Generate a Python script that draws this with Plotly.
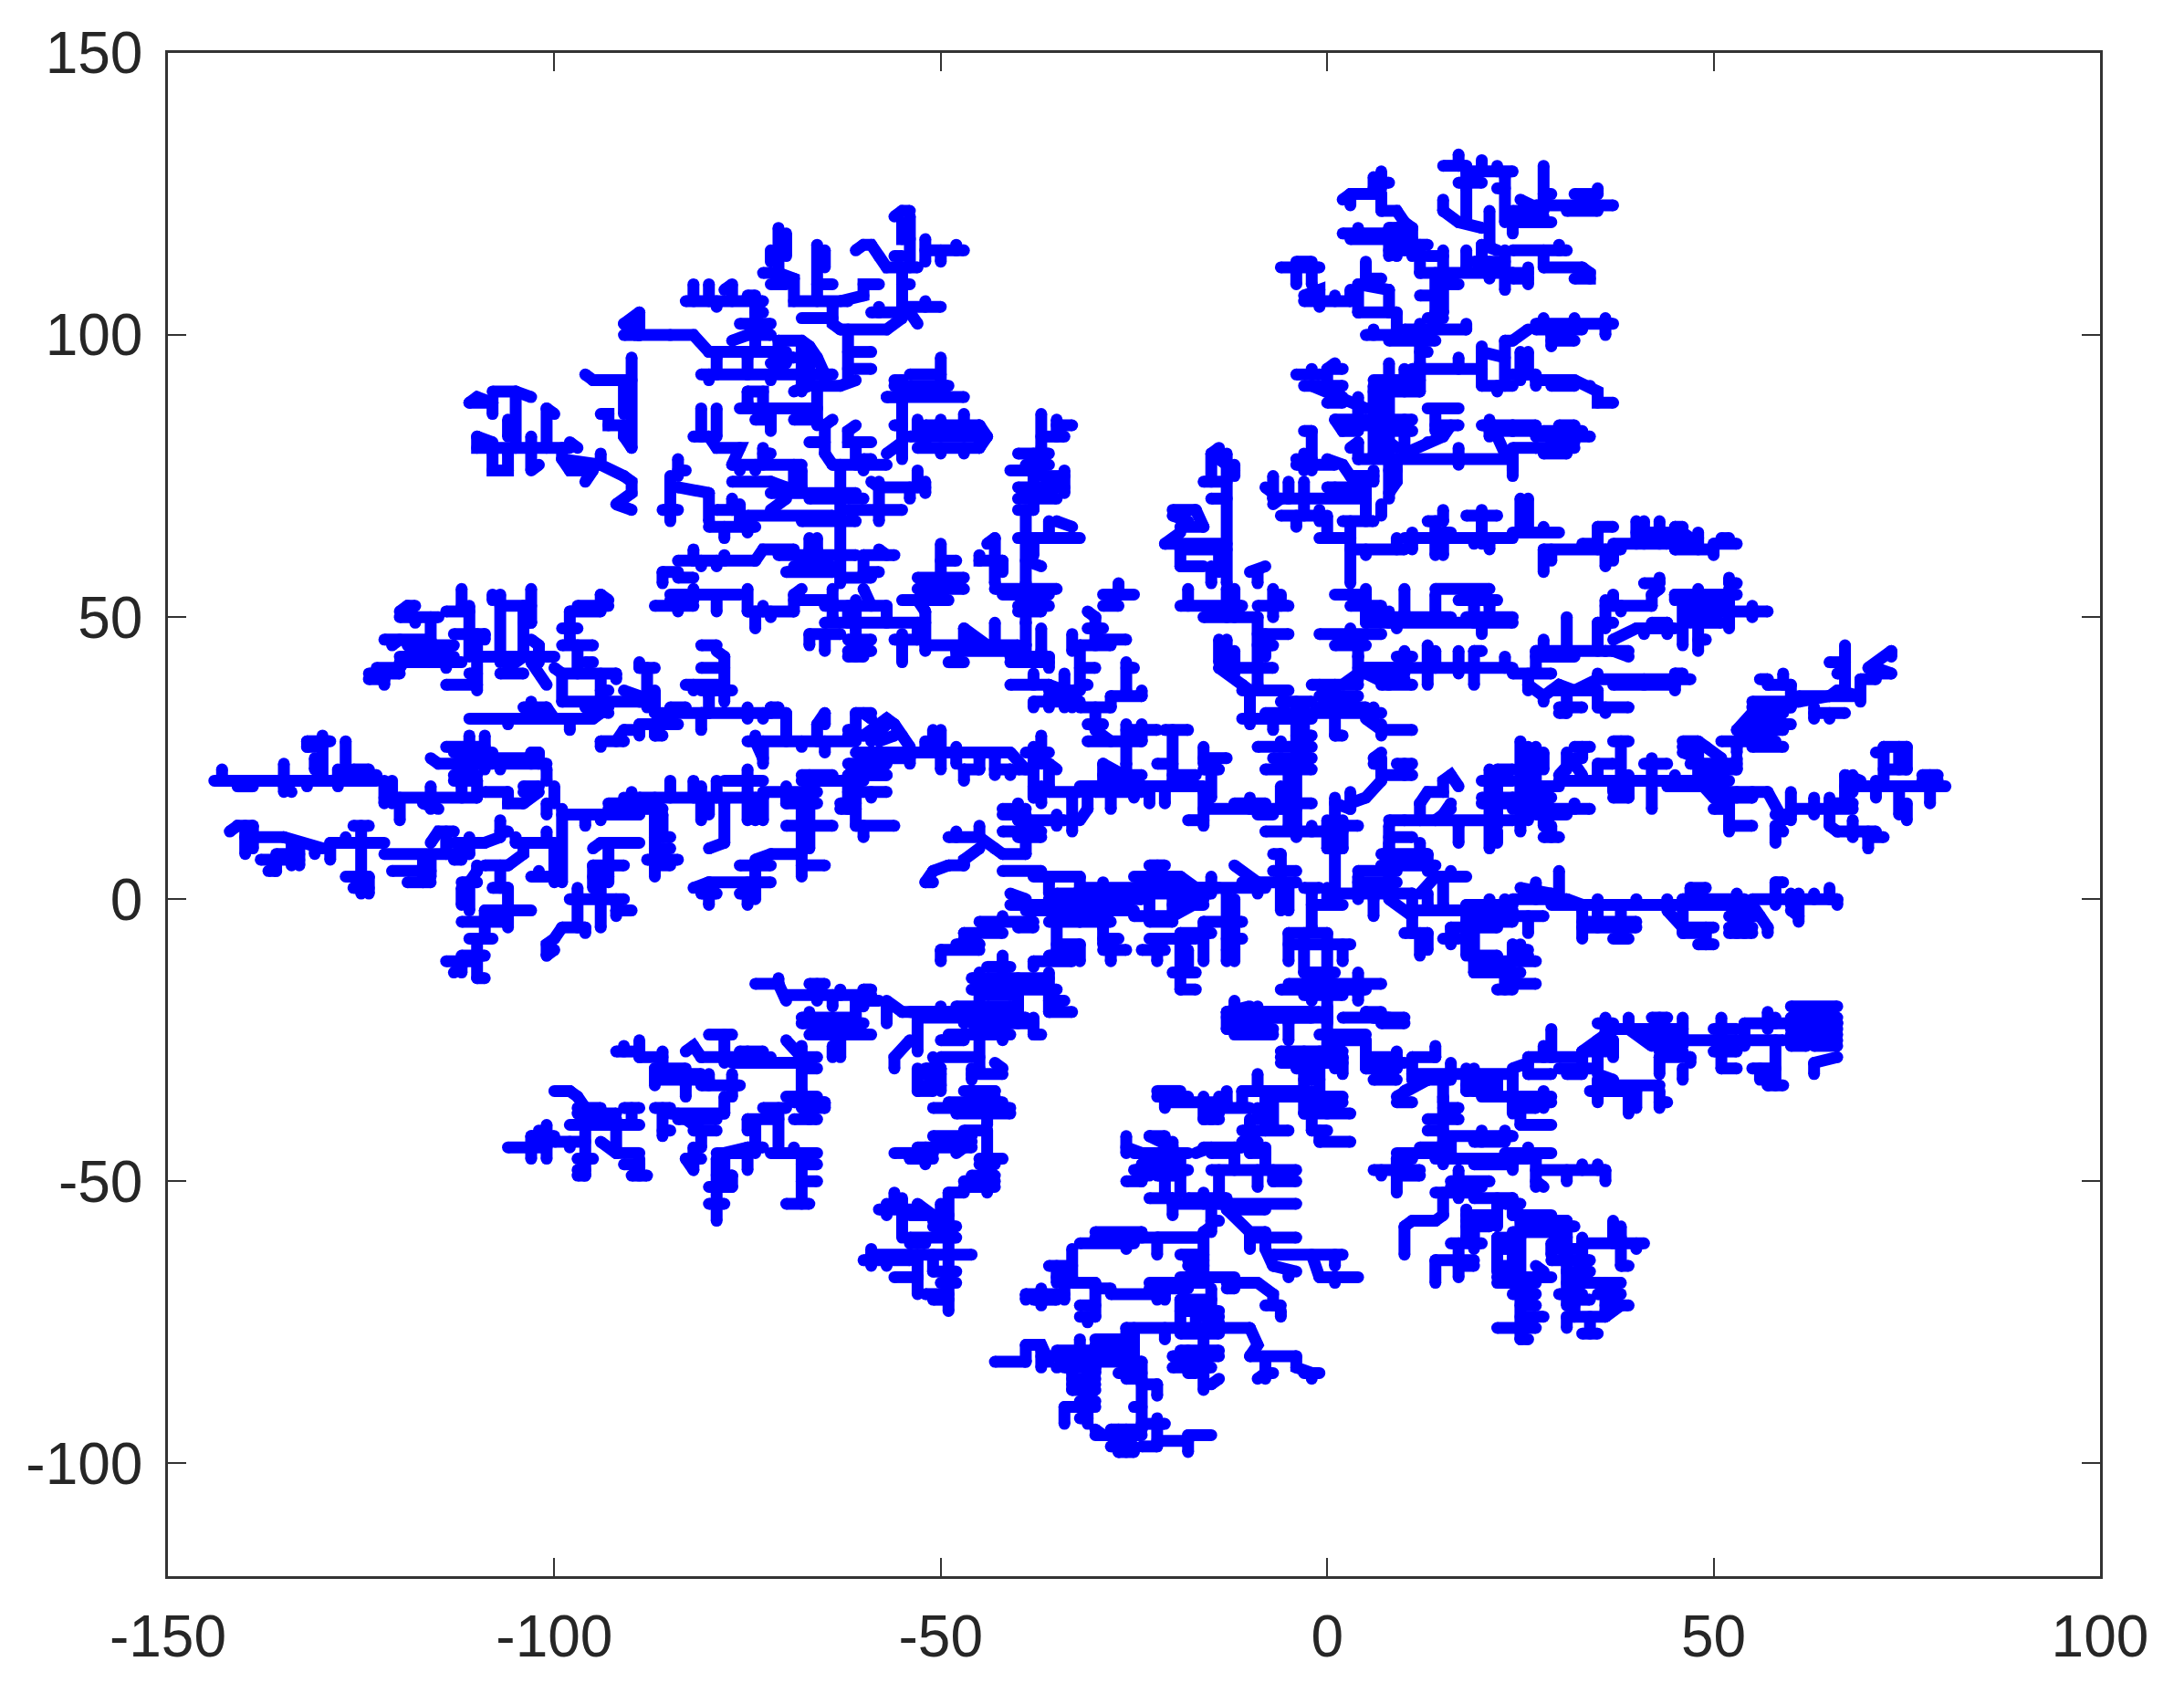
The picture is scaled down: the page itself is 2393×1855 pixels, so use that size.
import plotly.graph_objects as go

x_ticks = [-150, -100, -50, 0, 50, 100]
x_labels = ["-150", "-100", "-50", "0", "50", "100"]
y_ticks = [-100, -50, 0, 50, 100, 150]
y_labels = ["-100", "-50", "0", "50", "100", "150"]

# Cluster arms: each tuple is x0, y0, x1, y1, ... in data units.
arm_far_nw = [
 (-111,88,-108,88,-108,86),(-111,88,-110,89,-108,88),(-108,90,-105,90,-103,89),(-105,90,-105,80),(-106,85,-106,82),
 (-101,87,-101,80),(-101,87,-100,86),(-110,82,-110,80,-98,80),(-110,82,-108,81),(-108,79,-108,76,-106,76,-106,79),
 (-103,82,-103,76,-102,77),(-98,81,-97,80),(-99,80,-99,78,-98,76,-95,76,-96,74),(-99,78,-94,77),
 (-94,79,-94,77,-91,75,-90,74,-90,72,-92,70,-90,69),(-96,93,-95,92,-90,92),(-90,96,-90,80),(-91,92,-91,86),
 (-94,86,-93,86,-93,84,-91,84,-91,82,-90,80),(-91,102,-89,104),(-91,100,-89,100),(-91,102,-89,100),(-89,104,-89,100,-85,100,-82,100,-80,97),
]
arm_nw = [
 (-71,119,-71,111),(-70,118,-70,114),(-72,115,-72,113),(-73,111,-71,111,-69,110,-69,106,-62,106),(-72,109,-70,109),
 (-66,116,-66,106),(-65,115,-65,112),(-66,109,-64,109),(-61,115,-60,116,-59,116,-58,114,-57,112,-53,112),
 (-54,121,-54,112),(-56,121,-55,122,-54,122),(-55,120,-55,117,-54,117),(-56,114,-55,114),(-52,117,-52,113),(-52,115,-47,115),
 (-50,115,-50,113),(-48,116,-48,115),(-55,112,-55,104),(-55,105,-50,105),(-52,106,-52,105),(-54,109,-55,109),
 (-59,104,-54,104),(-58,105,-58,104),(-54,104,-53,102),(-63,101,-57,101,-55,103),(-64,105,-64,102,-63,101),(-68,103,-64,103),
 (-63,106,-60,107,-60,109,-58,109),(-62,101,-62,92),(-62,97,-59,97),(-62,94,-59,94),(-61,92,-63,91,-66,91,-66,84),
 (-80,97,-70,97),(-77,99,-75,100,-72,100),(-74,106,-74,97),(-83,106,-73,106),(-82,109,-82,106),(-80,109,-80,106),
 (-78,108,-77,109,-77,106),(-75,107,-74,107),(-79,105,-79,106),(-73,104,-74,104),(-76,102,-72,102),
 (-71,99,-68,99,-67,98,-66,96,-65,93,-65,92),(-71,99,-71,96,-69,96),(-68,98,-68,94),(-67,97,-67,92),(-72,95,-70,95),
 (-81,93,-64,93),(-80,92,-80,93),(-72,92,-72,93),(-79,96,-79,93),(-75,96,-75,93),(-75,90,-73,90,-73,87),(-75,88,-75,90),
 (-76,87,-66,87),(-72,87,-72,83),(-74,85,-72,85),(-69,85,-66,85),(-69,90,-67,91),(-68,93,-68,90),(-65,84,-64,85),
 (-65,84,-65,79),(-67,81,-65,81),(-65,79,-64,77),(-81,87,-81,82),(-79,87,-79,82),(-82,82,-80,82),(-80,82,-79,80,-76,80,-77,77),
 (-77,77,-68,77),(-73,80,-73,77),(-72,79,-73,79),(-76,76,-76,77),(-74,76,-74,77),(-77,74,-72,74,-70,73,-70,72),(-72,72,-61,72),
 (-69,77,-69,73),(-68,76,-68,73),(-63,77,-63,56),(-64,77,-57,77),(-60,76,-60,77),(-61,84,-62,83,-62,81,-59,81),(-61,81,-61,77),
 (-59,78,-60,78),(-57,79,-55,81),(-55,92,-55,78),(-56,92,-55,92),(-57,89,-55,89),(-56,91,-49,91),(-54,93,-50,93),(-50,96,-50,91),
 (-57,89,-47,89),(-56,84,-55,84),(-54,82,-45,82),(-53,85,-53,82),(-52,84,-45,84),(-53,80,-45,80),(-50,85,-50,84),(-47,86,-47,84),
 (-44,82,-45,84),(-44,82,-45,80),(-47,79,-47,80),(-50,80,-50,79),(-45,84,-45,80),(-52,83,-52,81),
 (-67,71,-60,71),(-62,69,-55,69),(-58,74,-58,67),(-59,74,-58,73,-52,73),(-53,76,-53,73),(-54,71,-54,73),(-52,72,-52,74),
 (-85,75,-85,70),(-84,78,-84,75),(-83,76,-84,76),(-84,73,-80,72),(-85,69,-85,67),(-86,69,-84,69),(-80,72,-80,67),
 (-77,71,-77,69),(-79,69,-76,69),(-76,70,-76,67),(-80,66,-74,66),(-78,64,-78,66),(-75,65,-75,66),(-75,68,-64,68),
 (-72,69,-70,71),(-68,67,-61,67),(-84,60,-74,60),(-82,62,-82,60),(-81,59,-81,60),(-79,59,-79,60),(-78,61,-78,60),
 (-74,60,-73,62,-69,62),(-71,61,-61,61),(-67,64,-67,62),(-66,64,-66,62),(-70,58,-64,58),(-69,59,-64,59),
 (-58,62,-57,61),(-60,61,-56,61),(-60,61,-60,58,-58,58),(-63,57,-59,57),(-86,58,-86,56),(-84,58,-86,58),(-82,57,-84,57),
 (-39,69,-39,56),(-37,86,-37,80),(-35,85,-35,82),(-35,84,-33,84),(-37,82,-34,82),(-40,79,-36,79),(-39,77,-36,77),(-41,76,-37,76),
 (-38,79,-38,69),(-40,73,-34,73),(-37,75,-34,75),(-34,76,-34,72),(-40,71,-35,71),(-40,69,-38,69),(-40,64,-32,64),(-36,67,-36,64),
 (-38,64,-38,61),(-37,59,-39,60),(-43,64,-43,56),(-44,63,-43,64),(-45,61,-45,60,-42,60),(-42,60,-42,58),(-50,63,-50,56),(-50,60,-48,60),
 (-53,57,-47,57),(-35,67,-33,66),
]
arm_n = [
 (-6,112,-1,112),(-4,113,-2,113),(-4,112,-4,109),(-2,112,-2,109),(-3,107,-1,108,-1,106),(-1,105,-1,106),(-3,106,3,106),(1,107,1,106),(3,108,3,106),
 (4,109,4,104),(5,113,5,110),(7,110,5,110),(8,108,8,104),(4,109,8,108),(4,104,9,104),(9,104,9,101),
 (2,124,3,125,7,125),(3,123,3,125),(7,125,7,122),(7,129,7,126),(6,128,6,126),(8,127,7,127),(7,122,9,122,10,120,11,119),
 (8,119,11,119),(8,117,11,117),(8,115,11,115),(8,119,8,114),(11,119,11,114),(9,119,9,114),
 (2,118,8,118),(3,117,8,117),(4,119,4,118),(11,116,13,116),(12,116,12,111),(12,111,24,111),(15,115,15,111),(13,114,15,114),
 (18,115,18,112),(20,116,20,113),(21,113,21,110),(23,115,23,108),(19,113,23,113),
 (17,132,17,130),(15,130,18,130),(18,130,18,127),(17,127,20,127),(20,131,20,129),(22,130,22,129),(18,129,24,129),(23,128,23,120),
 (22,126,23,126),(15,124,15,122),(15,122,17,120,20,119),(18,126,18,120),(21,122,21,116),(24,121,24,118),(20,116,22,115),
 (15,111,15,104),(14,111,14,104),(17,109,15,109),(12,107,14,107),(15,104,14,104),(13,103,15,103),(10,101,18,101),(18,102,18,101),
 (5,100,9,100),(6,101,6,100),(8,99,14,99),(12,102,12,95),(13,97,12,97),(11,94,20,94),(17,96,17,94),(20,98,20,91),
 (23,99,23,91),(20,91,24,91),(22,90,22,91),(23,99,24,99),(20,97,23,96),
 (8,95,8,71),(6,92,12,92),(6,90,12,90),(12,94,12,90),(10,94,10,90),(6,91,6,79),(7,89,7,79),(10,85,10,79),(8,85,11,85),(8,83,11,83),
 (8,81,9,80),(-4,93,-1,93),(-2,94,-2,93),(1,95,0,94,2,94),(0,94,0,91),(-3,91,2,91),(-2,91,2,89,4,88,5,87),(0,88,2,88),(1,85,2,83,4,83),
 (1,85,7,85),(4,89,4,85),(2,84,6,84),(4,81,4,78),(3,80,4,81),(4,78,24,78),(17,80,17,77),(24,79,24,76),(10,79,13,81,15,82,16,84),
 (14,84,17,84),(13,87,17,87),(14,87,14,83),(21,85,21,82),(20,84,24,84),(21,83,24,83),(22,82,23,79),
 (-2,83,-3,83),(-2,83,-2,78),(-4,78,-3,77),(-3,79,-3,76),(-4,77,1,77),(-2,76,-2,77),(0,78,2,77,3,75,6,75),(6,76,6,74),(8,76,9,76,9,74,8,72),
 (5,74,5,69),(-7,71,5,71),(-8,73,-7,72),(-7,75,-7,71),(-5,74,-5,71),(-3,74,-3,71),(0,73,4,73),(1,72,1,73),(-7,70,-6,71),
 (-6,68,-1,68),(-4,66,-4,68),(-3,71,-3,68),(-1,69,-1,67),(0,68,0,64),(-1,64,3,64),(3,67,3,56),(2,67,6,67),(5,69,5,67),(7,70,7,68),
 (3,62,10,62),(9,64,9,62),(5,61,5,62),(10,64,24,64),(11,65,11,62),(14,67,14,61),(15,69,15,67),(13,67,15,67),(15,64,15,61),(16,65,15,65),
 (20,69,20,63),(18,68,22,68),(19,63,19,64),(21,64,21,62),
 (-13,79,-13,56),(-14,80,-15,79),(-15,79,-15,74),(-12,77,-12,75),(-14,78,-12,76),(-16,74,-13,74),(-15,71,-13,71),
 (-20,69,-17,69),(-17,69,-16,66),(-19,66,-16,66),(-21,63,-13,63),(-19,65,-21,63),(-19,62,-13,62),(-19,59,-16,59),(-19,59,-19,62),(-15,59,-15,56),
 (-14,58,-14,62),(-20,68,-18,67),(-10,58,-8,59),(-9,58,-9,56),(-27,56,-27,55),
]
arm_ne = [
 (28,130,28,124),(29,125,28,125),(27,123,37,123),(32,125,35,125),(35,126,35,125),(31,122,35,122),(24,122,27,122),(24,120,29,120),(25,124,28,122),(24,121,28,121),
 (24,115,31,115),(30,116,30,115),(28,115,28,112),(28,112,33,112),(33,112,34,111,34,110,32,110),(26,112,26,109),(24,111,26,111),(24,110,26,110),
 (27,102,37,102),(28,103,28,102),(32,103,32,102),(36,103,36,100),(27,101,33,101),(29,98,29,100),(29,99,32,99),(24,99,26,101),
 (25,97,25,92),(26,97,26,93),(24,93,27,93),(27,91,27,92),(27,92,32,92),(29,91,32,91),(32,92,34,91,35,90,35,88,37,88),
 (30,84,32,84),(27,82,34,82),(28,83,33,83),(27,80,32,80),(29,81,32,81),(28,79,31,79),(24,84,27,84),(24,83,27,83),(24,80,27,80),(24,78,24,75),
 (25,71,25,65),(26,71,26,65),(24,65,30,65),(28,66,28,65),(35,66,37,66),(35,66,35,62),(33,63,35,63),(37,63,44,63),(28,62,38,62),
 (28,62,28,58),(29,62,29,60),(36,59,36,62),(37,60,37,62),(40,67,40,63),(41,67,41,63),(43,67,43,63),(45,66,46,66),(45,66,45,62),
 (40,65,44,65),(44,64,48,64),(48,65,48,62),(45,62,50,62),(50,61,50,63),(50,63,53,63),(51,64,52,64),(46,65,47,64),
 (43,57,43,56),(41,56,43,56),(52,57,52,56),(53,56,52,56),
]
arm_w_upper = [
 (-124,39,-122,39),(-122,38,-122,39),(-123,41,-120,41),(-124,40,-120,40),(-120,41,-119,43),(-120,43,-113,43),(-119,45,-113,45),(-122,46,-116,46),
 (-121,45,-120,46),(-120,42,-112,42),(-114,41,-114,42),(-120,51,-119,52,-118,52),(-120,50,-115,50),(-116,50,-116,46),(-118,49,-118,50),
 (-114,51,-111,51),(-111,52,-111,43),(-112,55,-112,52),(-113,47,-109,47),(-109,46,-109,47),(-110,47,-110,37),(-114,38,-110,38),(-111,40,-110,40),
 (-107,54,-107,42),(-108,54,-108,53),(-107,52,-103,52),(-103,55,-103,49),(-104,49,-103,49),(-104,52,-104,44),(-103,46,-102,45),(-102,45,-102,42),
 (-110,43,-100,43),(-107,40,-104,40),(-106,41,-104,43),(-103,42,-101,38),(-100,41,-99,40),(-99,40,-99,35),(-99,40,-92,40),(-94,40,-94,33),(-93,37,-94,37),
 (-91,37,-89,36),(-99,35,-89,35),(-97,45,-97,40),(-99,45,-95,45),(-99,48,-97,48),(-98,51,-98,46),(-97,52,-93,52),(-98,51,-94,51),(-94,54,-93,53),(-94,54,-94,52),(-95,42,-96,42),
 (-111,32,-100,32),(-106,31,-106,32),(-104,34,-101,34),(-103,35,-103,33),(-101,34,-100,32,-95,32),(-98,30,-98,32),(-95,32,-93,34),(-94,28,-91,28),(-94,27,-94,28),(-91,30,-89,30),(-92,28,-91,30),
 (-89,41,-89,42),(-92,39,-92,40),(-96,34,-93,33),
]
arm_w_lower = [
 (-144,21,-123,21),(-143,23,-143,21),(-135,24,-135,19),(-134,19,-135,20),(-141,20,-139,20),(-132,20,-132,21),(-130,29,-130,21),(-132,28,-132,27),(-132,28,-129,28),(-132,27,-130,27),
 (-131,25,-131,23),(-127,28,-127,21),(-128,23,-128,20),(-124,23,-126,23),(-128,22,-123,22),(-122,21,-122,17),(-121,21,-121,17),(-122,18,-110,18),(-120,14,-120,18),
 (-116,20,-116,16),(-115,16,-117,17),(-112,20,-112,18),(-113,21,-110,21),(-110,21,-110,18),(-109,19,-106,19),(-106,19,-106,17,-104,17),(-104,19,-102,19,-104,17),(-104,20,-102,20),
 (-116,25,-115,24,-108,24),(-113,26,-108,26),(-114,27,-109,27),(-111,29,-111,27),(-109,29,-109,23),(-108,25,-103,25),(-107,24,-107,23),(-107,24,-101,24),(-103,26,-102,26),(-103,26,-103,24),(-102,26,-102,24),
 (-101,23,-101,21),(-100,20,-100,17),(-101,17,-101,15),(-99,16,-99,3),(-99,15,-89,15),(-96,13,-96,15),(-94,14,-94,15),(-93,17,-89,17),(-90,19,-90,15),(-91,18,-91,15),(-93,16,-89,16),
 (-113,22,-110,22),(-142,12,-141,13,-139,13),(-140,13,-140,8),(-139,13,-139,9),(-140,11,-135,11),(-135,11,-133,10,-130,9),(-131,8,-131,9),(-129,10,-129,7),(-129,10,-122,10),
 (-127,11,-127,10),(-126,13,-124,13),(-125,13,-125,1),(-122,8,-116,8),(-138,7,-133,7),(-136,8,-133,8),(-133,10,-133,6),(-134,10,-134,6),(-137,5,-136,5),(-136,7,-136,5),
 (-127,4,-124,4),(-126,2,-124,2),(-124,4,-124,1),(-121,5,-116,5),(-119,3,-116,3),(-117,7,-117,3),(-116,8,-116,4),
 (-116,10,-115,12,-113,12),(-114,12,-114,8),(-116,8,-111,8),(-113,10,-109,10),(-111,11,-111,8),(-113,7,-112,7),(-109,10,-107,11),(-107,14,-107,11),(-106,12,-107,12),(-105,11,-105,10),(-105,10,-100,10),(-101,12,-101,10),
 (-104,10,-104,8,-106,6),(-109,6,-106,6),(-110,5,-110,6),(-110,5,-111,3),(-112,3,-110,3),(-112,2,-112,-1),(-111,3,-111,-2),(-107,6,-107,2),(-108,2,-106,2),(-106,2,-106,-2),
 (-109,-2,-103,-2),(-106,-2,-106,-5),(-109,-2,-109,-4),(-112,-4,-106,-4),(-109,-4,-109,-7),(-111,-7,-108,-7),(-110,-7,-110,-14),(-112,-10,-109,-10),(-114,-11,-110,-11),(-113,-13,-112,-12),(-112,-13,-112,-11),(-110,-14,-109,-14),
 (-100,10,-100,3),(-103,4,-100,4),(-102,5,-102,4),(-94,10,-89,10),(-95,9,-94,10),(-93,10,-93,3),(-95,6,-91,6),(-95,6,-95,2),(-95,4,-93,4),(-94,4,-94,0),
 (-98,0,-91,0),(-97,2,-97,0),(-97,0,-97,-5),(-94,0,-94,-5),(-92,0,-92,-1),(-92,-2,-90,-2),(-92,-3,-92,-2),(-99,-5,-96,-5),(-96,-6,-96,-5),(-99,-5,-100,-7,-101,-8,-101,-10),(-101,-10,-100,-9),
]
arm_mid_gap = [
 (-89,18,-73,18),(-85,21,-85,18),(-82,21,-82,18),(-81,20,-81,14),(-80,18,-80,15),(-79,21,-79,18),(-78,17,-78,10),(-78,10,-80,9),(-74,18,-74,14),(-75,18,-75,14),(-73,18,-73,14),
 (-78,21,-73,21),(-75,23,-75,19),(-73,19,-66,19),(-70,20,-70,17),(-70,17,-66,17),(-68,22,-64,22),(-68,21,-60,21),(-67,19,-67,22),(-62,22,-62,16),(-61,19,-61,13),(-62,19,-57,19),(-59,18,-59,19),
 (-62,22,-57,22),(-63,17,-61,17),(-63,16,-61,16),(-61,13,-56,13),(-60,13,-60,11),
 (-68,17,-68,4),(-67,16,-67,9),(-70,13,-64,13),(-72,8,-68,8),(-72,8,-74,7),(-76,6,-72,6),(-68,6,-65,6),(-74,6,-74,3),(-80,3,-72,3),(-82,2,-80,3),(-80,3,-80,-1),(-81,1,-79,1),(-75,3,-75,-1),(-76,1,-75,1),(-74,3,-74,0),
 (-87,18,-87,4),(-89,16,-86,16),(-86,15,-86,11),(-87,11,-85,11),(-87,9,-85,9),(-88,7,-84,7),(-87,6,-85,6),(-89,18,-89,15),
]
arm_mid_left = [
 (-87,52,-82,52),(-84,51,-84,52),(-85,54,-76,54),(-85,53,-82,53),(-82,55,-82,54),(-79,51,-79,54),(-75,55,-75,51),(-74,51,-74,48),(-73,52,-73,51),(-75,51,-69,51),(-72,50,-72,51),(-69,54,-69,51),
 (-68,55,-69,54),(-69,53,-64,53),(-64,55,-64,50),(-61,53,-61,48),(-62,52,-62,49),(-65,52,-57,52),(-60,55,-59,52),(-57,52,-57,49),(-65,49,-52,49),(-67,47,-63,47),(-67,47,-67,45),(-65,47,-65,44),
 (-61,49,-61,43),(-62,46,-59,46),(-62,44,-59,44),(-62,43,-60,43),(-55,47,-55,42),(-56,46,-53,46),(-53,49,-53,46),(-52,51,-52,44),(-55,53,-49,53),(-50,55,-50,53),(-53,55,-47,55),(-53,53,-52,51),
 (-52,45,-40,45),(-47,48,-47,45),(-47,48,-44,45),(-48,44,-48,42),(-49,42,-47,42),(-48,44,-41,44),(-43,49,-43,45),(-39,49,-39,45),
 (-43,55,-35,55),(-42,54,-36,54),(-39,55,-39,49),(-40,52,-36,52),(-40,51,-37,51),(-37,48,-37,44),(-41,43,-36,43),(-41,42,-36,42),(-39,45,-39,42),(-36,41,-36,43),
 (-41,38,-36,38),(-38,40,-38,38),(-36,38,-34,37),(-34,40,-34,34),(-36,37,-32,37),(-38,35,-32,35),(-38,35,-38,34),(-36,36,-36,34),(-33,34,-33,36),(-33,47,-33,44),
 (-81,45,-79,45),(-79,44,-78,43),(-78,43,-78,35),(-81,41,-78,41),(-83,38,-78,38),(-82,37,-82,38),(-81,37,-77,37),(-80,36,-80,33),(-81,33,-70,33),(-75,34,-75,32),(-72,34,-72,33),(-72,34,-71,34),
 (-70,33,-70,28),(-73,32,-73,33),(-85,34,-83,34),(-87,33,-80,33),(-81,30,-81,33),(-89,31,-84,31),(-87,29,-87,31),(-87,29,-86,29),(-89,29,-89,31),(-87,37,-87,33),(-88,41,-88,34),(-89,41,-87,41),(-89,35,-87,35),
 (-75,28,-61,28),(-74,29,-74,28),(-74,28,-73,25),(-73,28,-73,24),(-68,27,-68,28),(-65,26,-65,28),(-66,31,-66,28),(-65,33,-66,31),(-65,33,-65,31),
 (-61,33,-59,33),(-59,32,-60,33),(-61,33,-61,30),(-62,30,-61,30),(-62,29,-60,29,-58,31,-57,32,-56,31,-55,29,-54,27),(-59,28,-57,31),(-58,28,-56,29),
 (-61,26,-53,26),(-62,24,-57,24),(-60,25,-54,25),(-54,24,-54,26),(-57,22,-60,22),(-60,22,-61,24),(-58,24,-58,22),
 (-53,26,-41,26),(-51,30,-51,26),(-50,30,-50,23),(-52,28,-52,26),(-48,27,-48,24),(-47,23,-47,21),(-47,23,-45,23),(-45,25,-45,23),(-43,25,-43,22),(-43,23,-41,23),(-41,22,-41,23),(-41,26,-39,23),
 (-37,29,-37,24),(-39,26,-36,26),(-38,27,-38,18),(-36,24,-36,20),(-36,24,-35,23),(-37,17,-37,20),(-36,19,-32,19),(-40,23,-38,23),(-38,20,-38,18),
 (-42,16,-39,16),(-40,17,-40,14),(-42,15,-39,15),(-40,14,-34,14),(-35,15,-35,13),(-33,18,-33,12),(-42,12,-37,12),(-40,11,-37,11),(-39,14,-39,8),(-42,8,-39,8),(-42,8,-43,9,-45,11),(-49,11,-45,11),(-48,12,-48,11),(-45,13,-45,11),
 (-45,9,-47,7,-47,6),(-49,6,-47,6),(-51,5,-49,6),(-52,3,-51,5),(-52,3,-51,3),
 (-42,5,-37,5),(-38,4,-32,4),(-36,3,-36,1),(-35,1,-32,1),(-36,0,-32,0),(-34,-3,-32,-3),(-41,1,-39,0),(-41,-1,-32,-1),(-39,-2,-32,-2),(-36,-4,-32,-4),
 (-45,-4,-38,-4),(-42,-3,-42,-4),(-40,-5,-38,-5),(-47,-6,-42,-6),(-47,-6,-45,-8),(-50,-9,-50,-11),(-50,-9,-45,-9),(-48,-8,-45,-8),(-47,-7,-46,-7),
 (-35,-4,-35,-9),(-35,-8,-32,-8),(-38,-11,-33,-11),(-38,-11,-38,-12),(-36,-10,-33,-10),
 (-74,-15,-71,-15),(-71,-14,-71,-15),(-71,-15,-70,-18),(-70,-17,-59,-17),(-66,-15,-66,-18),(-67,-15,-65,-15),(-63,-16,-63,-17),(-64,-19,-64,-17),(-60,-16,-60,-19),(-59,-16,-60,-16),(-61,-18,-58,-18),
 (-57,-18,-55,-20),(-55,-20,-45,-20),(-50,-19,-50,-20),(-48,-19,-40,-19),(-61,-18,-61,-22),(-68,-21,-61,-21),(-67,-20,-67,-21),
 (-40,-14,-40,-22),(-46,-14,-36,-14),(-42,-10,-42,-14),(-44,-12,-41,-12),(-46,-16,-35,-16),(-45,-13,-45,-16),(-44,-17,-40,-17),(-36,-13,-36,-20),(-36,-18,-34,-18),(-36,-20,-33,-20),(-45,-16,-45,-20),(-47,-21,-39,-21),
]
arm_center = [
 (-27,55,-27,54),(-29,54,-25,54),(-29,52,-27,52),(-30,50,-30,45),(-31,51,-30,50),(-31,48,-29,48),(-30,46,-26,46),(-32,45,-28,45),(-32,45,-32,37),(-32,41,-30,41),(-31,38,-32,38),
 (-26,42,-26,37),(-26,41,-25,41),(-28,36,-24,36),(-24,37,-24,36),(-28,36,-28,34),(-32,34,-28,34),(-30,34,-30,30),(-31,31,-29,31),(-30,30,-28,28),(-31,28,-24,28),(-26,31,-26,24),(-24,31,-24,28),(-26,30,-22,30),
 (-21,30,-18,30),(-20,30,-20,21),(-22,24,-20,24),(-20,22,-17,22),(-15,23,-15,18),(-16,27,-16,24),(-16,25,-13,25),(-16,23,-14,23),
 (-32,20,-16,20),(-29,24,-29,20),(-29,24,-25,21),(-29,22,-24,22),(-28,16,-28,20),(-25,18,-25,20),(-23,17,-23,20),(-21,17,-21,20),(-26,24,-26,20),(-31,20,-31,16),(-32,14,-31,16),(-30,19,-24,19),
 (-16,19,-16,13),(-18,14,-16,14),(-16,16,-4,16),(-10,18,-10,16),(-12,17,-8,17),(-9,15,-7,15),
 (-4,35,-4,13),(-6,35,-2,35),(-3,34,-3,24),(-4,29,-2,29),(-9,27,-2,27),(-6,28,-6,27),(-7,25,-2,25),(-8,23,-2,23),(-6,20,-6,16),(-4,17,-2,17),(-5,23,-5,13),
 (-8,12,2,12),(-2,13,-2,12),(-4,11,-4,12),(1,18,1,1),(0,13,4,13),(0,14,0,9),(2,14,2,9),(0,9,2,9),(1,17,3,16),(3,19,3,16),(3,17,5,18,7,21),(7,25,7,21),(7,22,11,22),(6,24,7,24),(7,26,6,25),(9,24,11,24),(10,24,10,22),
 (-10,37,-10,32),(-11,37,-5,37),(-14,46,-14,42),(-13,46,-13,42),(-12,44,-12,40),(-14,41,-7,41),(-14,41,-11,38),(-11,38,-10,37),(-9,50,-9,38),(-9,47,-5,47),(-8,47,-8,43),(-9,45,-7,45),
 (-19,52,-11,52),(-18,55,-18,52),(-13,55,-13,50),(-16,50,-9,50),(-12,55,-12,50),(-9,52,-5,52),(-7,55,-7,50),(-6,54,-6,52),(-11,32,-2,32),(-7,32,-7,30),(-8,33,-5,33),(-10,32,-10,31),
 (-1,38,1,35),(-2,38,4,38),(-1,36,4,36),(1,38,1,29),(-2,33,7,33),(-1,34,5,34),(6,34,6,32),(5,32,7,30),(7,30,11,30),(7,31,7,29),(1,29,2,29),
 (4,43,4,39),(4,41,10,41),(5,40,8,38),(7,38,11,38),(7,39,10,39),(4,40,2,38),(-1,47,7,47),(3,48,3,47),(1,45,5,45),(4,45,4,43),(5,55,5,49),(5,49,24,49),(3,52,7,52),(1,54,5,54),(8,51,8,49),(5,50,16,50),(9,48,9,49),
 (10,55,10,51),(14,54,14,50),(14,55,21,55),(19,53,19,49),(17,53,22,53),(21,52,21,50),(18,50,24,50),(20,47,20,49),
 (5,41,24,41),(9,43,11,43),(10,44,10,40),(13,45,13,38),(14,44,14,41),(17,44,17,40),(19,44,19,38),(19,44,20,44),(23,43,23,41),
 (8,13,8,9),(8,11,11,11),(8,14,10,14,24,14),(17,13,17,10),(12,17,13,19,15,19,15,21,16,22,17,20),(12,17,12,14),(14,14,16,16),(15,15,16,17),
 (20,18,24,18),(20,17,24,17),(20,21,24,21),(22,23,24,23),(21,23,21,9),(22,20,22,13),(22,10,22,12),
 (7,8,13,8),(8,10,8,4),(7,6,14,6),(4,5,9,5),(12,10,12,8),(13,8,13,5),(14,4,18,4),(16,5,16,4),(14,4,12,1),(4,3,9,3),(4,4,4,0),(6,0,6,-3),
 (1,1,11,1),(8,0,11,-3),(11,-2,24,-2),(18,-1,24,-1),(10,-6,13,-6),(12,-6,12,-10),(13,-6,13,-9),(11,1,11,-6),(13,1,13,-1),(15,4,15,-1),
 (19,-1,19,-13),(18,-1,18,-10),(21,0,21,-2),(23,0,23,-2),(16,-5,22,-5),(16,-5,16,-8),(15,-7,17,-7),(18,-4,24,-4),(19,-11,24,-11),(19,-13,24,-13),(19,-10,22,-10),(24,-8,24,-11),(22,-16,24,-16),(23,-13,23,-16),
 (-32,2,-14,2),(-32,4,-32,2),(-29,3,-29,2),(-23,6,-21,6),(-22,6,-22,4),(-25,4,-19,4),(-19,4,-17,2),(-15,4,-15,2),(-18,2,-8,2),(-12,6,-9,3),(-9,3,-9,1),(-11,3,-4,3),(-7,8,-6,8),(-6,8,-6,-2),(-7,5,-4,5),(-5,-2,-5,2),
 (-3,2,-1,2),(-2,1,-2,-5),(-2,-1,2,-1),(0,2,0,-1),(-32,0,-24,0),(-32,-2,-25,-2),(-32,1,-25,1),(-23,4,-23,-3),(-20,4,-20,-3),(-25,-3,-20,-3),(-23,-4,-20,-4),(-20,-3,-16,0),(-24,1,-15,1),(-20,-1,-16,-1),
 (-32,-4,-28,-4),(-29,-5,-29,-8),(-29,-7,-27,-7),(-28,-8,-28,-11),(-29,-9,-26,-9),(-32,-8,-32,-11),
 (-23,-7,-17,-7),(-22,-7,-22,-11),(-24,-9,-21,-9),(-19,-6,-19,-16),(-18,-9,-18,-13),(-20,-13,-17,-13),(-19,-16,-17,-16),(-16,-4,-16,-11),(-19,-6,-15,-6),(-16,-4,-11,-4),(-13,1,-13,-11),(-12,0,-12,-11),(-13,-7,-11,-7),(-13,-9,-12,-9),
 (-5,-6,0,-6),(-5,-8,3,-8),(-5,-6,-5,-11),(-3,-6,-3,-13),(0,-6,0,-15),(2,-8,2,-11),(-3,-13,1,-13),(-5,-15,7,-15),(4,-13,4,-17),(-6,-16,5,-16),(-3,-17,2,-17),(-2,-18,-2,-16),(4,-18,4,-16),(0,-17,0,-22),
 (-12,-18,-12,-20),(-13,-20,-10,-19),(-13,-20,-2,-20),(-12,-21,-2,-21),(2,-21,10,-21),(5,-20,7,-20),
]
arm_sw_far = [
 (-80,-24,-77,-24),(-78,-24,-78,-29),(-81,-28,-76,-28),(-83,-27,-82,-26,-81,-28),(-77,-29,-67,-29),(-75,-27,-75,-29),(-76,-27,-73,-27),(-72,-28,-72,-29),(-70,-25,-68,-28),(-68,-26,-68,-34),(-68,-28,-66,-28),(-68,-30,-66,-30),
 (-67,-24,-59,-24),(-63,-24,-63,-28),(-64,-26,-64,-28),(-68,-22,-60,-22),(-67,-21,-67,-22),(-61,-19,-61,-24),(-57,-19,-57,-22),(-56,-30,-56,-28,-54,-25),
 (-92,-27,-89,-27),(-91,-26,-91,-27),(-89,-25,-89,-28),(-89,-28,-86,-28),(-86,-27,-86,-30),(-87,-30,-83,-30),(-87,-30,-87,-33),(-87,-32,-80,-32),(-87,-31,-81,-31),(-83,-33,-83,-35),(-81,-33,-76,-33),(-80,-31,-80,-33),(-77,-31,-77,-35),(-78,-35,-78,-38),
 (-85,-38,-78,-38),(-90,-37,-90,-40),(-91,-37,-89,-37),(-87,-37,-85,-37),(-86,-37,-86,-42),(-85,-41,-86,-41),(-84,-38,-81,-41),(-84,-39,-79,-39),(-82,-41,-79,-41),(-81,-41,-81,-44),(-82,-44,-82,-48),(-83,-46,-81,-46),(-82,-48,-83,-46),
 (-100,-34,-98,-34,-97,-35,-96,-37),(-97,-37,-94,-37),(-97,-38,-92,-38),(-98,-40,-89,-40),(-92,-39,-92,-45),(-94,-43,-92,-45),(-92,-45,-89,-45),(-89,-46,-89,-49),(-91,-47,-89,-47),(-90,-49,-88,-49),
 (-96,-40,-96,-49),(-97,-46,-95,-46),(-97,-48,-96,-48),(-97,-49,-96,-49),(-100,-43,-96,-43),(-98,-44,-98,-43),(-103,-42,-103,-46),(-101,-40,-101,-46),(-103,-42,-100,-42),(-102,-41,-102,-42),(-106,-44,-101,-44),
 (-73,-37,-70,-37),(-71,-37,-71,-45),(-75,-39,-71,-39),(-75,-39,-75,-41),(-74,-40,-74,-45),(-75,-44,-73,-44),(-75,-44,-78,-45),(-79,-45,-75,-45),(-75,-45,-75,-48),(-79,-46,-79,-57),(-78,-46,-78,-51),(-79,-49,-77,-49),(-77,-49,-77,-51),(-80,-51,-77,-51),(-80,-54,-78,-54),
 (-72,-45,-66,-45),(-69,-44,-69,-45),(-68,-45,-68,-54),(-68,-47,-66,-47),(-68,-50,-66,-50),(-70,-54,-67,-54),(-70,-35,-66,-35),(-69,-36,-65,-36),(-65,-36,-65,-37),(-68,-37,-65,-37),(-69,-39,-66,-39),(-67,-39,-67,-37),
 (-56,-52,-56,-54),(-58,-55,-53,-55),(-57,-54,-57,-56),(-55,-53,-55,-60),(-59,-62,-59,-65),(-60,-64,-54,-64),(-59,-63,-54,-63),(-57,-64,-57,-65),(-56,-67,-53,-67),(-53,-67,-53,-70),(-56,-45,-54,-45),(-54,-45,-54,-46),
]
arm_s = [
 (-54,-20,-40,-20),(-53,-21,-47,-21),(-53,-21,-53,-27),(-41,-19,-41,-21),(-47,-22,-43,-20),(-46,-22,-38,-22),(-38,-21,-38,-24),(-37,-24,-38,-24),(-49,-24,-41,-24),(-42,-25,-42,-24),(-50,-25,-47,-25),
 (-45,-24,-45,-30),(-50,-28,-45,-28),(-51,-28,-50,-30),(-52,-30,-50,-30),(-52,-31,-50,-31),(-52,-33,-50,-33),(-53,-30,-53,-34),(-50,-30,-50,-34),(-51,-34,-53,-34),(-43,-29,-42,-30),(-46,-31,-42,-31),(-46,-30,-46,-32),(-43,-34,-46,-35),(-47,-34,-43,-34),(-44,-34,-44,-40),
 (-49,-36,-42,-36),(-43,-35,-43,-37),(-51,-37,-41,-37),(-48,-38,-41,-38),(-47,-41,-44,-41),(-51,-42,-46,-42),(-44,-41,-44,-47),(-50,-43,-46,-43),(-53,-44,-46,-44),(-48,-45,-47,-44),(-52,-44,-52,-46),(-54,-45,-51,-45),(-54,-46,-51,-46),(-52,-47,-52,-45),
 (-45,-46,-42,-46),(-45,-47,-43,-47),(-46,-49,-43,-49),(-47,-50,-43,-50),(-47,-51,-43,-51),(-44,-52,-44,-49),(-49,-52,-47,-52),(-49,-52,-49,-67),
 (-53,-54,-51,-56),(-54,-56,-49,-56),(-50,-54,-50,-56),(-51,-57,-49,-57),(-51,-58,-48,-58),(-54,-60,-48,-60),(-54,-61,-52,-61),(-54,-63,-46,-63),(-51,-63,-51,-66),(-53,-63,-53,-67),(-51,-66,-48,-66),(-50,-68,-48,-68),(-52,-70,-49,-70),(-49,-67,-49,-73),(-51,-71,-49,-71),
 (-22,-34,-19,-34),(-22,-35,-18,-35),(-21,-37,-21,-36),(-21,-36,-14,-36),(-16,-35,-16,-39),(-15,-38,-15,-39),(-16,-39,-14,-39),(-14,-35,-14,-38),(-13,-34,-13,-36),(-14,-37,-10,-37),(-11,-34,-11,-36),(-11,-34,-3,-34),(-9,-31,-9,-34),(-8,-35,2,-35),
 (-8,-35,-8,-41),(-7,-35,-7,-40),(-11,-41,-5,-41),(-10,-39,-10,-41),(-9,-37,-9,-39),
 (0,-19,0,-26),(-8,-20,-1,-20),(-9,-19,-9,-20),(-5,-25,-5,-22),(-13,-21,0,-21),(-13,-23,-7,-23),(-12,-24,-7,-24),(-13,-20,-13,-23),(-10,-20,-10,-24),(-1,-24,5,-24),(1,-25,5,-25),(2,-24,2,-25),
 (-6,-27,2,-27),(-6,-29,2,-29),(-6,-28,2,-28),(-3,-27,-3,-34),(-1,-27,-1,-34),(1,-26,1,-30),(2,-28,2,-31),(-4,-30,-1,-30),(-3,-32,-1,-32),(5,-25,5,-30),
 (-2,-36,2,-36),(-3,-38,3,-38),(-2,-34,-2,-41),(0,-35,0,-38),(-2,-41,0,-41),(-1,-43,3,-43),(-1,-41,-1,-43),(-3,-34,-3,-38),
 (-26,-42,-26,-45),(-23,-42,-21,-42),(-20,-43,-20,-45),(-23,-42,-20,-44),(-26,-44,-24,-45),(-25,-45,-18,-45),(-19,-45,-19,-52),(-17,-45,-15,-44),(-16,-44,-11,-44),(-15,-45,-12,-45),(-12,-44,-12,-48),(-11,-43,-9,-43),(-10,-41,-10,-45),(-8,-44,-8,-47),(-10,-45,-8,-45),
 (-24,-47,-20,-47),(-23,-46,-23,-49),(-25,-48,-18,-48),(-22,-49,-19,-49),(-21,-48,-21,-52),(-26,-50,-24,-50),(-24,-47,-24,-50),
 (-15,-48,-4,-48),(-7,-50,-4,-50),(-9,-48,-9,-51),(-7,-48,-7,-50),(-14,-48,-14,-53),(-23,-53,-20,-53),(-20,-54,-4,-54),(-16,-52,-16,-54),(-20,-53,-20,-56),(-18,-53,-13,-53),(-13,-55,-8,-55),(-14,-52,-14,-54),
 (-15,-54,-15,-59),(-14,-57,-15,-57),(-13,-55,-10,-59,-8,-59),(-10,-60,-4,-60),(-10,-59,-10,-62),(-8,-59,-8,-62),(-8,-62,-7,-65),(-7,-65,-4,-66),(-5,-67,-5,-66),(-7,-63,2,-63),(1,-63,1,-65),(-2,-63,-1,-67),(-1,-67,4,-67),(1,-68,1,-67),
 (-16,-59,-16,-67),(-15,-58,-16,-59),(-22,-60,-16,-60),(-30,-60,-16,-60),(-30,-59,-24,-59),(-24,-59,-24,-60),(-32,-61,-25,-61),(-26,-62,-26,-61),(-22,-60,-22,-63),(-19,-63,-16,-63),(-18,-64,-16,-64),(-18,-65,-16,-65),
 (-19,-67,-12,-67),(-13,-68,-9,-68),(-9,-68,-7,-70,-7,-72),(-6,-73,-6,-74),(-8,-72,-6,-72),(-13,-69,-12,-69),
 (-23,-68,-16,-68),(-23,-69,-18,-69),(-28,-70,-22,-70),(-22,-71,-22,-70),(-21,-70,-21,-71),(-30,-69,-28,-69),(-33,-68,-30,-68),(-30,-68,-30,-74),(-32,-72,-30,-72),(-32,-74,-30,-74),(-31,-75,-31,-74),
 (-33,-62,-33,-68),(-36,-65,-33,-65),(-35,-65,-35,-68),(-35,-67,-33,-67),(-39,-70,-34,-70),(-39,-71,-39,-70),(-37,-69,-37,-72),(-38,-71,-35,-71),(-34,-68,-34,-71),
 (-19,-71,-15,-71),(-15,-69,-15,-73),(-19,-71,-19,-76),(-19,-73,-14,-73),(-17,-73,-17,-76),(-16,-74,-14,-74),(-15,-75,-14,-75),
 (-26,-76,-10,-76),(-10,-76,-9,-79,-10,-81),(-10,-81,-4,-81),(-4,-81,-4,-83,-2,-84),(-3,-84,-1,-84),(-2,-85,-2,-84),(-8,-82,-8,-85),(-8,-84,-7,-84),(-9,-85,-8,-84),(-21,-76,-21,-78),(-26,-76,-26,-78),
 (-19,-77,-14,-77),(-19,-80,-14,-80),(-20,-81,-14,-81),(-20,-83,-15,-83),(-16,-77,-16,-87),(-18,-80,-18,-83),(-15,-86,-14,-85),(-18,-84,-17,-84),
 (-30,-79,-25,-79),(-35,-80,-26,-80),(-43,-82,-39,-82),(-39,-79,-39,-82),(-39,-79,-37,-79,-36,-82),(-37,-80,-37,-83),(-37,-81,-30,-81),(-32,-78,-32,-80),(-35,-83,-30,-81),(-30,-81,-25,-81),(-27,-79,-27,-82),(-30,-78,-25,-78),(-25,-76,-25,-82),
 (-34,-83,-30,-83),(-30,-83,-30,-84),(-33,-85,-30,-85),(-33,-86,-30,-86),(-33,-87,-30,-87),(-33,-84,-33,-87),(-31,-84,-31,-87),
 (-30,-82,-24,-82),(-24,-82,-24,-94),(-27,-84,-24,-84),(-26,-85,-24,-85),(-24,-86,-22,-86),(-22,-86,-22,-88),(-25,-90,-24,-90),
 (-31,-88,-31,-93),(-32,-89,-30,-89),(-34,-90,-30,-90),(-34,-90,-34,-93),(-31,-92,-32,-92),
 (-28,-94,-24,-94),(-30,-95,-24,-95),(-28,-97,-25,-97),(-27,-98,-25,-98),(-27,-94,-27,-98),(-26,-94,-26,-98),(-30,-94,-29,-95),
 (-22,-92,-22,-97),(-24,-93,-21,-93),(-22,-96,-18,-96),(-18,-95,-15,-95),(-18,-95,-18,-98),(-24,-97,-22,-97),
]
arm_se = [
 (6,-21,8,-21),(7,-22,10,-22),(5,-20,6,-21),
 (14,-26,14,-28),(5,-28,9,-28),(11,-28,14,-28),(5,-29,10,-29),(5,-30,9,-30),(9,-27,9,-30),(11,-28,11,-32),(6,-32,9,-32),(11,-31,24,-31),(16,-29,16,-31),(11,-32,16,-32),(15,-32,15,-36),(9,-36,11,-36),(9,-35,13,-32),(10,-34,13,-32),
 (18,-30,18,-34),(19,-30,19,-34),(22,-32,22,-34),(18,-34,21,-34),(18,-33,22,-33),(24,-31,24,-35),
 (24,-30,26,-29),(26,-28,26,-31),(26,-28,33,-28),(29,-23,29,-28),(28,-26,28,-28),(26,-31,29,-31),(30,-30,35,-30),(31,-31,33,-31),(33,-27,33,-30),(35,-26,35,-30),(33,-27,37,-27),(37,-25,37,-28),(35,-25,37,-25),(36,-21,36,-25),(35,-22,37,-22),(37,-23,33,-27),
 (37,-23,46,-23),(39,-21,39,-23),(39,-23,42,-26),(42,-21,44,-21),(43,-21,43,-24),(46,-21,46,-25),(41,-24,46,-24),(42,-25,46,-25),(43,-27,46,-27),(43,-28,47,-28),(47,-29,47,-28),(43,-28,43,-31),(46,-30,46,-32),(44,-26,46,-26),
 (46,-25,54,-25),(51,-21,51,-30),(50,-23,53,-23),(50,-27,53,-27),(51,-30,53,-30),(54,-22,54,-26),(54,-22,57,-22),(57,-22,66,-22),(54,-25,59,-25),(57,-20,57,-23),(58,-21,58,-22),(58,-25,58,-33),(55,-30,58,-30),(56,-30,56,-32),(57,-33,59,-33),(57,-31,57,-33),
 (60,-19,66,-19),(60,-21,66,-21),(60,-23,66,-23),(60,-24,66,-24),(60,-25,66,-25),(60,-26,62,-26),(63,-26,66,-26),(63,-29,63,-31),(63,-29,66,-28),(64,-22,66,-22),
 (35,-31,37,-32),(36,-33,43,-33),(35,-32,35,-36),(34,-34,39,-34),(39,-34,39,-38),(40,-34,40,-37),(43,-34,43,-37),(44,-36,43,-36),
 (20,-35,29,-35),(28,-34,28,-37),(27,-36,29,-36),(24,-36,24,-38),(24,-37,27,-37),(25,-37,25,-40),(25,-40,29,-40),
 (15,-35,15,-43),(15,-37,17,-37),(13,-39,17,-39),(13,-41,15,-41),(15,-42,24,-42),(20,-41,20,-43),(23,-41,23,-43),(19,-43,23,-43),(16,-43,16,-45),
 (9,-45,15,-45),(12,-44,15,-44),(15,-46,15,-47),(23,-45,29,-45),(26,-44,26,-45),(14,-46,26,-46),(19,-47,24,-47),(24,-47,24,-48),
 (6,-48,12,-48),(7,-49,7,-48),(9,-46,9,-52),(9,-49,12,-49),(9,-46,11,-46),(27,-46,27,-51),(28,-51,27,-50),(27,-48,36,-48),(31,-50,31,-48),(33,-47,33,-48),(35,-47,35,-48),(36,-50,36,-48),
 (17,-48,17,-51),(16,-50,21,-50),(16,-51,20,-51),(14,-52,19,-52),(17,-53,17,-52),(15,-52,15,-56),(15,-56,14,-57),(11,-57,14,-57),(10,-58,10,-63),(11,-57,10,-58),
 (19,-53,24,-53),(24,-53,24,-56),(23,-54,25,-54),(18,-56,22,-56),(18,-55,18,-60),(18,-57,22,-57),(18,-58,21,-58),(22,-53,22,-58),(19,-58,19,-62),(16,-61,20,-61),(17,-61,17,-67),(14,-64,19,-64),(14,-64,14,-68),(17,-65,19,-65),
 (25,-56,25,-78),(24,-56,29,-56),(25,-57,31,-57),(31,-57,31,-60),(32,-58,31,-58),(24,-59,31,-59),(22,-60,25,-60),(22,-60,22,-66),(24,-60,24,-66),(22,-65,24,-65),(22,-62,24,-62),(22,-67,29,-67),(27,-65,28,-66),(22,-68,27,-68),(24,-70,27,-70),(25,-72,27,-72),(25,-74,28,-74),(22,-76,27,-76),(25,-78,26,-78),
 (29,-59,31,-62),(31,-60,31,-66),(29,-61,29,-63),(29,-64,34,-64),(30,-62,33,-62),(32,-66,34,-66),(33,-60,33,-66),(31,-66,31,-72),(31,-68,35,-68),(30,-70,33,-70),(32,-71,34,-71),(32,-72,32,-74),(31,-74,36,-74),(31,-74,31,-76),(34,-74,34,-77),(33,-77,35,-77),
 (36,-74,38,-72),(36,-72,39,-72),(36,-68,36,-73),(35,-68,38,-68),(35,-70,38,-70),
 (33,-61,41,-61),(37,-57,37,-61),(38,-58,38,-60),(40,-62,40,-61),(38,-61,38,-65),(38,-65,39,-65),
]
arm_e = [
 (37,54,37,52),(36,53,36,48),(35,49,37,49),(36,52,42,52),(38,51,38,52),(42,54,42,52),(43,55,42,54),(31,50,31,43),(27,44,39,44),(28,46,28,43),(27,44,27,41),(27,43,32,43),(35,49,35,44),(36,44,36,44),
 (37,46,40,48),(40,48,45,48),(41,47,41,48),(44,49,44,47),(42,49,44,49),(46,53,46,45),(47,52,47,49),(48,55,48,44),(49,46,48,46),(48,49,51,49),(48,51,55,51),(48,52,52,52),(52,55,52,48),(45,54,53,54),(45,53,45,54),(55,52,55,50),(55,51,57,51),(39,43,37,44),
 (24,40,29,40),(26,40,26,37),(26,38,28,36),(28,36,28,35),(28,36,30,38,32,37),(32,37,35,39),(35,39,47,39),(35,40,35,39),(41,38,41,39),(37,38,45,38),(45,40,45,37),(46,40,45,40),(29,37,35,37),
 (31,37,31,33),(30,34,33,34),(30,33,31,33),(35,37,35,34),(35,34,39,34),(36,33,36,34),
 (55,35,61,35),(55,34,60,34),(61,35,65,36),(65,36,66,37),(66,37,69,36),(67,45,67,37),(65,42,67,42),(66,40,67,40),(69,39,69,35),(69,39,71,39),(70,41,73,44),(73,43,73,44),(71,40,73,40),(73,40,71,41),
 (61,36,69,36),(63,32,63,34),(63,33,67,33),(65,32,65,33),(60,38,60,34),(57,38,60,38),(59,40,59,38),(56,39,57,39),(57,39,57,38),
 (55,33,59,33),(55,31,60,31),(53,30,59,30),(54,29,57,29),(55,28,58,28),(55,27,59,27),(51,28,55,28),(53,27,53,26),(53,30,55,33),
 (46,28,48,28),(46,27,49,27),(48,28,51,25),(47,24,53,24),(46,26,48,25),(53,25,53,23),(48,26,48,21),(49,23,53,23),(48,21,52,21),
 (30,21,50,21),(38,28,38,19),(37,28,39,28),(35,24,37,24),(35,24,35,21),(33,27,33,25),(32,27,34,27),(31,26,31,23),(32,24,33,22),(30,22,32,25),(39,22,39,18),(37,18,39,18),(37,21,37,19),(42,25,42,16),(41,24,44,24),(45,22,45,20),(44,20,49,20),
 (48,21,50,18),(50,18,55,18),(50,16,52,16),(52,17,52,12),(52,13,55,13),(50,19,57,19),(53,19,53,18),(55,19,55,18),(57,19,59,14),(60,19,60,14),(58,15,60,15),(58,13,58,10),(58,13,59,12),
 (60,16,68,16),(63,18,63,15),(65,18,65,13),(65,17,68,17),(65,13,66,12),(66,12,71,12),(68,14,68,11),(70,12,70,9),(70,11,72,11),
 (67,22,67,17),(68,22,68,19),(67,22,69,21),(67,20,80,20),(71,21,71,18),(72,27,72,20),(72,27,75,27),(71,26,72,26),(75,27,75,23),(72,23,75,23),(74,27,74,23),(74,20,74,15),(75,17,75,14),(78,22,78,17),(77,22,79,22),(77,21,79,21),
 (25,28,25,12),(26,27,26,14),(27,27,27,19),(28,26,28,23),(24,18,29,18),(24,16,34,16),(32,17,32,16),(27,15,31,15),(28,13,28,16),(29,13,29,11),(28,11,30,11),(26,20,30,20),
 (24,0,31,0),(27,3,27,0),(30,5,30,0),(25,2,29,1),(31,0,33,-1),(29,-1,46,-1),(35,0,35,-1),(40,0,40,-1),(44,0,44,-1),
 (33,-4,40,-4),(33,-2,33,-7),(35,-1,35,-5),(38,-1,38,-5),(33,-5,40,-5),(37,-7,39,-7),(38,-5,38,-7),
 (46,0,46,-6),(47,2,49,2),(47,2,47,0),(46,0,54,0),(53,1,53,0),(46,-1,55,-1),(44,-2,46,-5),(46,-5,50,-5),(49,-5,49,-8),(48,-8,50,-8),(46,-6,49,-6),
 (55,-1,57,-5),(57,-5,57,-6),(52,-3,56,-3),(53,-1,53,-6),(54,-1,54,-6),(52,-6,55,-6),(52,-5,55,-5),
 (55,0,66,0),(58,3,58,-1),(59,3,58,3),(60,1,60,-1),(61,1,61,-4),(60,-2,61,-3),(63,1,63,0),(65,2,65,0),(66,0,66,-1),
 (25,-8,25,-11),(24,-11,27,-11),(24,-9,26,-9),(24,-13,25,-13),(24,-15,27,-15),(24,-3,28,-3),(26,-3,26,-6),(24,-8,26,-10),
]

groups = [arm_far_nw, arm_nw, arm_n, arm_ne, arm_w_upper, arm_w_lower, arm_mid_gap, arm_mid_left, arm_center, arm_sw_far, arm_s, arm_se, arm_e]

xs, ys = [], []
for group in groups:
    for path in group:
        xs.extend(path[0::2]); ys.extend(path[1::2])
        xs.append(None); ys.append(None)

fig = go.Figure(go.Scatter(
    x=xs, y=ys, mode="lines+markers", connectgaps=False, hoverinfo="skip",
    line=dict(color="#0000ff", width=13),
    marker=dict(color="#0000ff", size=13, line=dict(width=0)),
))

axis_style = dict(
    showgrid=False, zeroline=False, showline=True, mirror="ticks", linecolor="#333333", linewidth=2.5,
    ticks="inside", ticklen=20, tickwidth=1.5, tickcolor="#333333",
    tickfont=dict(family="Liberation Sans, Arial, sans-serif", size=64, color="#262626"),
    tickmode="array",
)
fig.update_xaxes(range=[-150, 100], tickvals=x_ticks, ticktext=x_labels, ticklabelstandoff=8, **axis_style)
fig.update_yaxes(range=[-120, 150], tickvals=y_ticks, ticktext=y_labels, ticklabelstandoff=12, **axis_style)
fig.update_layout(
    width=2393, height=1855, autosize=False, showlegend=False,
    paper_bgcolor="white", plot_bgcolor="white",
    margin=dict(l=184, r=92, t=58, b=128, pad=0),
)
fig.write_html("out.html", config={"displayModeBar": False}, post_script="document.body.style.margin='0';")
